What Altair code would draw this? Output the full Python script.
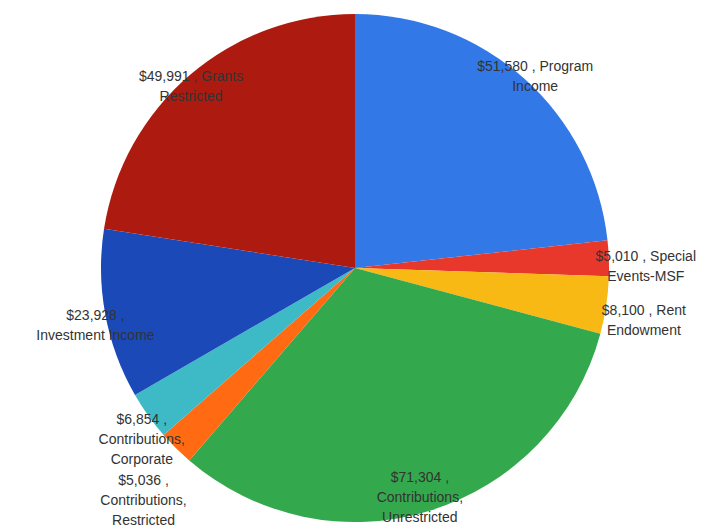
import altair as alt
import pandas as pd

categories = [
    "Program Income", "Special Events-MSF", "Rent Endowment",
    "Contributions, Unrestricted", "Contributions, Restricted",
    "Contributions, Corporate", "Investment Income", "Grants Restricted",
]
values = [51580, 5010, 8100, 71304, 5036, 6854, 23928, 49991]
label_lines = [
    ["$51,580 , Program", "Income"],
    ["$5,010 , Special", "Events-MSF"],
    ["$8,100 , Rent", "Endowment"],
    ["$71,304 ,", "Contributions,", "Unrestricted"],
    ["$5,036 ,", "Contributions,", "Restricted"],
    ["$6,854 ,", "Contributions,", "Corporate"],
    ["$23,928 ,", "Investment Income"],
    ["$49,991 , Grants", "Restricted"],
]
colors = ["#3278E6", "#E8382B", "#F9B914", "#34A84C",
          "#FF6A12", "#3DBAC6", "#1B49B8", "#AD1B10"]
label_radius = [270, 291, 292, 220, 300, 262, 264, 252]

df = pd.DataFrame({
    "category": categories,
    "value": values,
    "order": list(range(len(categories))),
    "label": label_lines,
    "lr": label_radius,
})

pie = alt.Chart(df).mark_arc(outerRadius=254, stroke=None).encode(
    theta=alt.Theta("value:Q", stack=True),
    order=alt.Order("order:Q", sort="ascending"),
    color=alt.Color("category:N",
                    scale=alt.Scale(domain=categories, range=colors),
                    legend=None),
)

text = alt.Chart(df).transform_joinaggregate(
    total="sum(value)"
).transform_window(
    cum="sum(value)", sort=[alt.SortField("order", order="ascending")],
    frame=[None, 0]
).transform_calculate(
    mid="2 * PI * (datum.cum - datum.value / 2) / datum.total"
).mark_text(
    font="Liberation Sans", fontSize=14, color="#333333",
    align="center", baseline="middle", lineHeight=20,
).encode(
    theta=alt.Theta("mid:Q", scale=None),
    radius=alt.Radius("lr:Q", scale=None),
    text="label",
)

chart = (pie + text).properties(
    width=694, height=520, padding=0,
    autosize=alt.AutoSizeParams(type="none"),
).configure_view(stroke=None)

chart.save("out.html", embed_options={"renderer": "svg", "actions": False})
